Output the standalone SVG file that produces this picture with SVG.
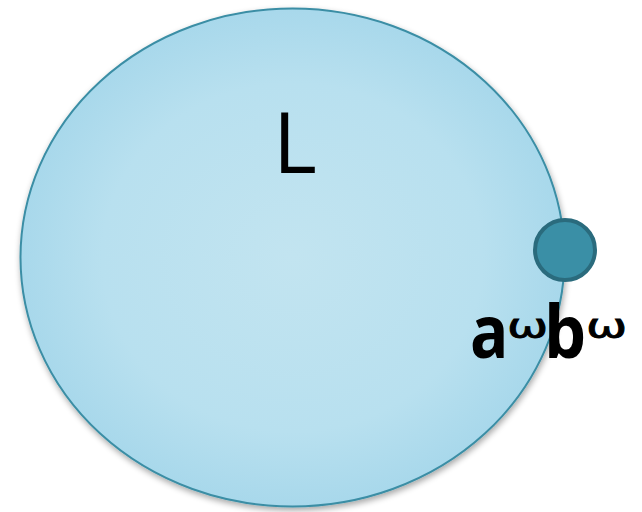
<svg xmlns="http://www.w3.org/2000/svg" width="642" height="512" viewBox="0 0 642 512">
  <defs>
    <radialGradient id="fillGrad" cx="0.5" cy="0.5" r="0.5">
      <stop offset="0" stop-color="#c2e4f0"/>
      <stop offset="0.7" stop-color="#b8e0ef"/>
      <stop offset="1" stop-color="#a8d8eb"/>
    </radialGradient>
    <filter id="shadow" x="-10%" y="-10%" width="120%" height="120%">
      <feGaussianBlur in="SourceAlpha" stdDeviation="3"/>
      <feOffset dx="1" dy="3" result="b"/>
      <feComponentTransfer><feFuncA type="linear" slope="0.35"/></feComponentTransfer>
      <feMerge><feMergeNode/><feMergeNode in="SourceGraphic"/></feMerge>
    </filter>
    <style>
      .set { fill: url(#fillGrad); stroke: #3b8ea5; stroke-width: 2; }
      .pt { fill: #3a8fa6; stroke: #2a6b7d; stroke-width: 4; }
      .lbl { font-family: "Open Sans", "DejaVu Sans", sans-serif; fill: #000; }
      .big { font-size: 74px; font-weight: bold; }
      .sup { font-family: "DejaVu Sans", sans-serif; font-size: 34px; font-weight: normal; stroke: #000; stroke-width: 0.8; }
    </style>
  </defs>
  <g id="setL">
    <ellipse class="set" cx="292.5" cy="257.5" rx="272" ry="249" filter="url(#shadow)"/>
    <text class="lbl" x="295" y="173" font-size="84" text-anchor="middle">L</text>
  </g>
  <g id="point">
    <circle class="pt" cx="565" cy="250" r="30"/>
    <text class="lbl big" transform="translate(470,358) scale(0.86,1)">a</text>
    <text class="lbl sup" transform="translate(507,338) scale(1.45,1)">ω</text>
    <text class="lbl big" transform="translate(544,358) scale(0.9,1)">b</text>
    <text class="lbl sup" transform="translate(586,338) scale(1.45,1)">ω</text>
  </g>
  <g id="connectors"/>
</svg>
